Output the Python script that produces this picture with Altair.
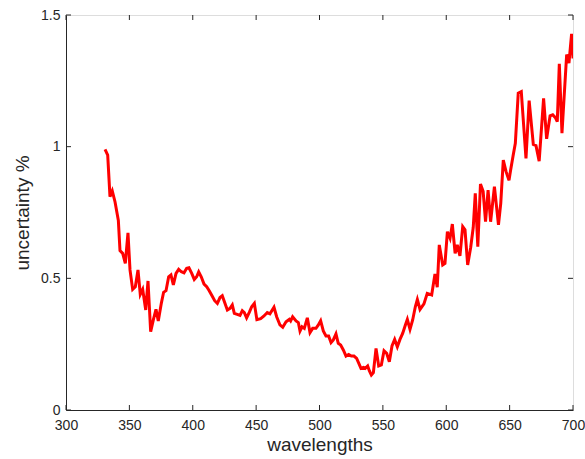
import altair as alt
import pandas as pd

wavelengths = [330.8, 332.9, 334.7, 336.5, 338.7, 341.3, 342.6, 344.7, 346.8, 348.9,
               350.5, 352.6, 354.7, 356.8, 358.6, 360.5, 362.9, 364.7, 366.8, 368.9,
               371.0, 372.8, 375.2, 377.0, 378.9, 381.0, 382.8, 384.7, 386.8, 388.9,
               391.0, 393.1, 395.2, 397.0, 399.2, 401.2, 403.1, 404.7, 406.7, 408.9,
               411.0, 413.0, 415.2, 417.3, 419.4, 421.5, 423.3, 425.4, 427.3, 429.4,
               431.2, 432.8, 435.1, 437.3, 439.1, 440.7, 442.5, 444.6, 446.5, 448.6,
               450.6, 453.6, 456.2, 458.8, 460.9, 464.1, 466.2, 468.8, 471.0, 473.6,
               476.2, 477.2, 478.8, 481.5, 483.3, 484.6, 486.2, 488.0, 490.4, 492.5,
               494.6, 497.2, 499.1, 500.9, 503.0, 505.1, 507.2, 509.1, 510.9, 513.0,
               514.8, 516.7, 518.8, 520.9, 523.0, 525.1, 527.2, 529.3, 531.2, 532.7,
               534.6, 536.1, 538.0, 539.3, 540.9, 542.5, 544.6, 546.7, 548.8, 550.9,
               553.0, 555.1, 557.2, 559.3, 561.4, 563.5, 565.6, 567.7, 569.3, 571.4,
               573.5, 575.6, 577.2, 579.3, 582.4, 585.0, 588.5, 591.1, 592.9, 594.5,
               597.2, 599.0, 600.9, 603.0, 604.8, 607.0, 608.7, 610.8, 613.0, 614.8,
               616.9, 619.3, 621.3, 622.9, 624.9, 627.0, 629.1, 631.0, 633.0, 635.0,
               638.0, 641.2, 643.0, 645.0, 647.2, 649.5, 650.8, 652.7, 654.5, 656.8,
               659.2, 662.9, 665.4, 668.7, 670.8, 673.3, 676.8, 679.2, 681.9, 684.0,
               686.1, 687.6, 689.2, 691.3, 695.0, 696.8, 698.9, 700.0]
uncertainty = [0.99, 0.968, 0.81, 0.832, 0.79, 0.72, 0.605, 0.595, 0.557, 0.673,
               0.532, 0.458, 0.468, 0.532, 0.439, 0.458, 0.38, 0.49, 0.297, 0.342,
               0.382, 0.338, 0.405, 0.447, 0.453, 0.506, 0.513, 0.475, 0.519, 0.534,
               0.525, 0.521, 0.538, 0.54, 0.519, 0.496, 0.506, 0.525, 0.506, 0.478,
               0.468, 0.453, 0.434, 0.415, 0.405, 0.427, 0.434, 0.405, 0.38, 0.386,
               0.399, 0.367, 0.363, 0.359, 0.377, 0.37, 0.35, 0.371, 0.392, 0.405,
               0.343, 0.347, 0.357, 0.37, 0.365, 0.39, 0.354, 0.323, 0.314, 0.335,
               0.344, 0.338, 0.354, 0.338, 0.332, 0.3, 0.316, 0.31, 0.35, 0.294,
               0.31, 0.31, 0.323, 0.339, 0.3, 0.281, 0.281, 0.256, 0.266, 0.289,
               0.253, 0.247, 0.228, 0.205, 0.211, 0.205, 0.205, 0.196, 0.175, 0.158,
               0.162, 0.158, 0.167, 0.149, 0.133, 0.142, 0.234, 0.167, 0.171, 0.225,
               0.215, 0.183, 0.243, 0.268, 0.24, 0.268, 0.291, 0.322, 0.344, 0.306,
               0.342, 0.392, 0.42, 0.382, 0.403, 0.443, 0.437, 0.517, 0.466, 0.627,
               0.551, 0.557, 0.677, 0.652, 0.706, 0.595, 0.627, 0.585, 0.696, 0.684,
               0.551, 0.618, 0.694, 0.823, 0.62, 0.858, 0.83, 0.715, 0.835, 0.715,
               0.848, 0.703, 0.785, 0.949, 0.905, 0.872, 0.911, 0.965, 1.013, 1.203,
               1.209, 0.955, 1.175, 1.008, 1.004, 0.945, 1.183, 1.03, 1.117, 1.121,
               1.11, 1.095, 1.315, 1.051, 1.35, 1.317, 1.428, 1.335]

x_ticks = [300, 350, 400, 450, 500, 550, 600, 650, 700]
y_ticks = [0, 0.5, 1, 1.5]

W, H = 507, 395
AX = "#262626"
FONT = "Liberation Sans"

df = pd.DataFrame({"w": wavelengths, "u": uncertainty})
xt = pd.DataFrame({"t": x_ticks})
yt = pd.DataFrame({"t": y_ticks})

xscale = alt.Scale(domain=[300, 700], nice=False)
yscale = alt.Scale(domain=[0, 1.5], nice=False)

line = alt.Chart(df).mark_line(color="#ff0000", strokeWidth=3, clip=True).encode(
    x=alt.X("w:Q", scale=xscale,
            axis=alt.Axis(values=x_ticks, title="wavelengths", format="d",
                          tickSize=0, labelPadding=8, titlePadding=3,
                          labelFlush=False, labelOverlap=False,
                          titleFontSize=19, labelFontSize=14, grid=False,
                          titleFontWeight="normal", titleFont=FONT, labelFont=FONT,
                          domainColor=AX, labelColor=AX, titleColor=AX)),
    y=alt.Y("u:Q", scale=yscale,
            axis=alt.Axis(values=y_ticks, title="uncertainty %", format=".1~f",
                          tickSize=0, labelPadding=6, titlePadding=8,
                          labelFlush=False, labelOverlap=False,
                          titleFontSize=19, labelFontSize=14, grid=False,
                          titleFontWeight="normal", titleFont=FONT, labelFont=FONT,
                          domainColor=AX, labelColor=AX, titleColor=AX)),
)

xb = alt.Chart(xt).mark_rule(color=AX, strokeWidth=1).encode(
    x=alt.X("t:Q", scale=xscale), y=alt.value(H), y2=alt.value(H - 5))
xtop = alt.Chart(xt).mark_rule(color=AX, strokeWidth=1).encode(
    x=alt.X("t:Q", scale=xscale), y=alt.value(0), y2=alt.value(5))
yl = alt.Chart(yt).mark_rule(color=AX, strokeWidth=1).encode(
    y=alt.Y("t:Q", scale=yscale), x=alt.value(0), x2=alt.value(5))
yr = alt.Chart(yt).mark_rule(color=AX, strokeWidth=1).encode(
    y=alt.Y("t:Q", scale=yscale), x=alt.value(W), x2=alt.value(W - 5))

chart = alt.layer(xb, xtop, yl, yr, line).properties(
    width=W, height=H,
    autosize=alt.AutoSizeParams(type="none"),
    padding={"left": 66, "top": 15, "right": 12, "bottom": 49},
).configure_view(stroke=AX, strokeWidth=1).configure(background="white")

chart.save("out.html", embed_options={"renderer": "svg", "actions": False})
